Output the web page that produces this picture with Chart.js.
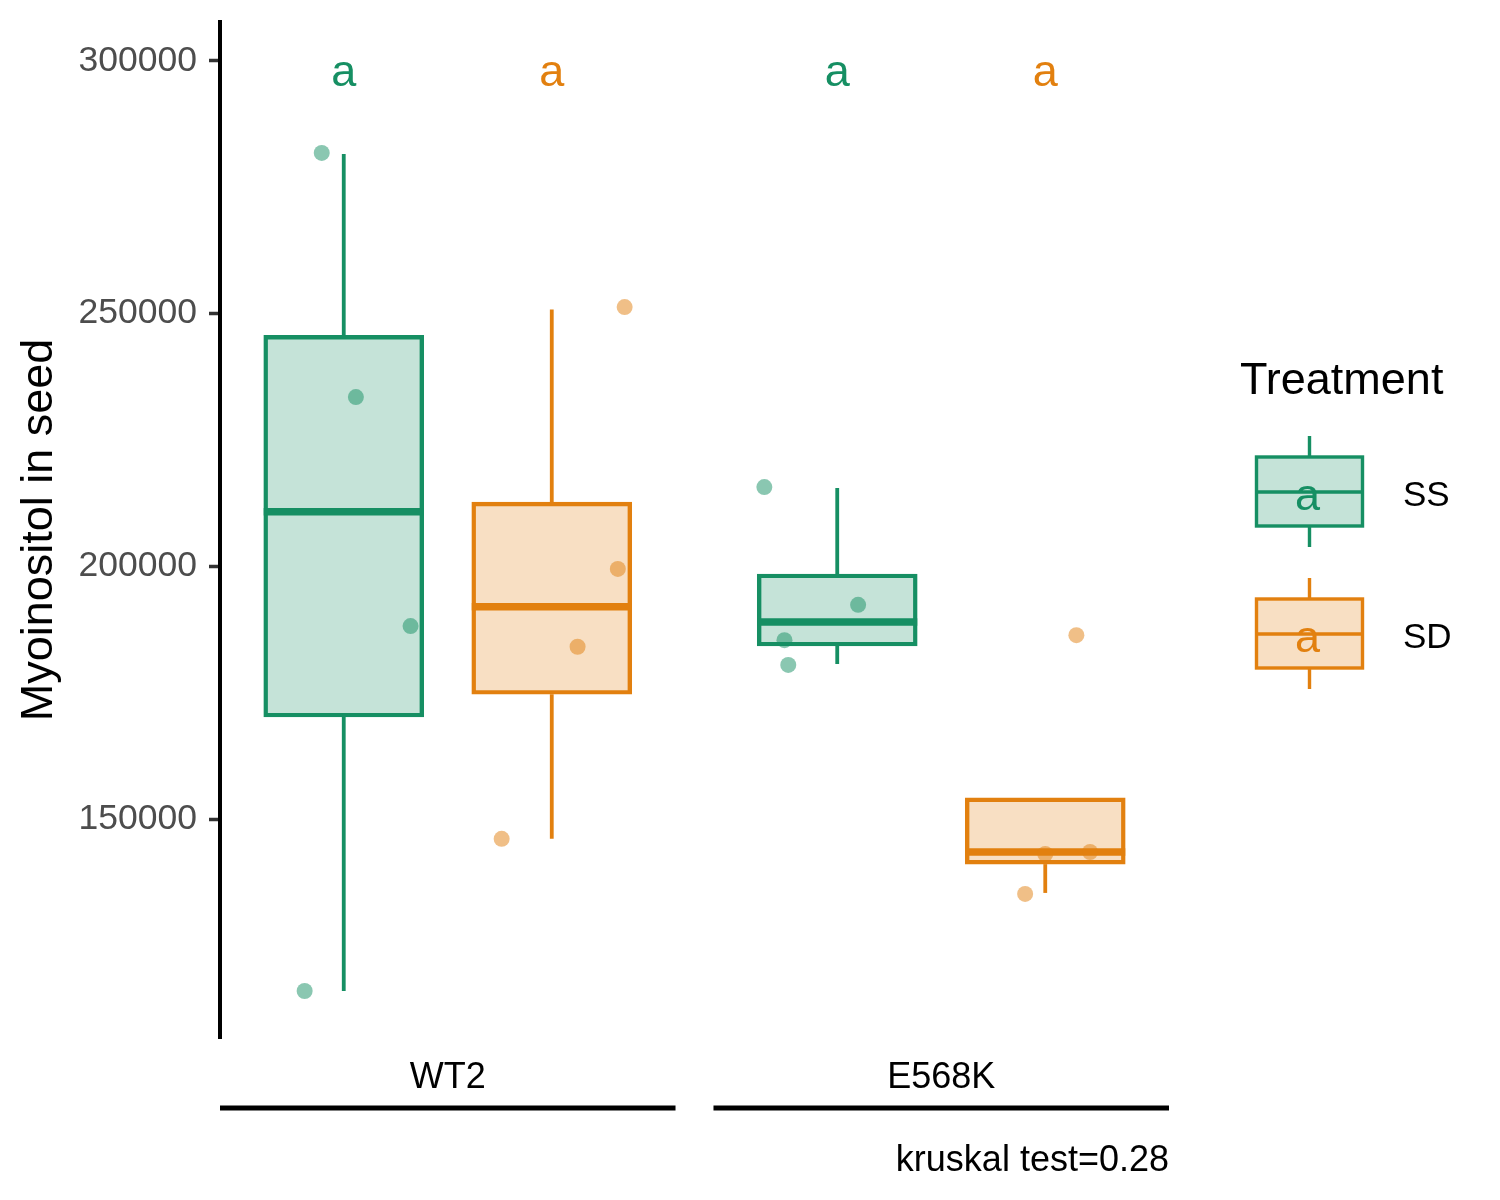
<!DOCTYPE html>
<html>
<head>
<meta charset="utf-8">
<script src="https://cdn.jsdelivr.net/npm/chart.js@4.4.1/dist/chart.umd.min.js"></script>
<style>
  html, body { margin: 0; padding: 0; background: #fff; }
</style>
</head>
<body>
<canvas id="chart" width="1500" height="1200"></canvas>
<script>
// Values
const genotypes = ['WT2', 'E568K'];
const treatments = ['SS', 'SD'];
const yTicks = [150000, 200000, 250000, 300000];

// box stats, one row per genotype: [lower whisker, q1, median, q3, upper whisker]
const ssBoxes = [
  [116000, 170200, 210800, 245700, 281600],
  [180700, 184250, 189000, 198500, 215500]
];
const sdBoxes = [
  [146100, 174700, 192000, 212700, 250800],
  [135400, 141100, 143500, 154200, 154200]
];

// individual measurements
const ssPoints = [
  [281800, 233500, 188200, 116000],
  [215700, 192400, 185400, 180500]
];
const sdPoints = [
  [251300, 199500, 184100, 146100],
  [186400, 143500, 143100, 135200]
];
// horizontal jitter of each measurement (x units)
const ssJitter = [
  [-0.058, 0.032, 0.176, -0.103],
  [-0.192, 0.055, -0.139, -0.129]
];
const sdJitter = [
  [0.192, 0.174, 0.068, -0.132],
  [0.082, 0.118, 0, -0.053]
];

// letter groups above the boxes
const ssLetters = ['a', 'a'];
const sdLetters = ['a', 'a'];
const letterY = 295000;

const kruskalP = 0.28;

// Layout / style
const PANEL_W = 1.2;
const PANEL_STEP = 1.3;
const DODGE = 0.274;
const GREEN = '#168f63';
const ORANGE = '#e2800f';
const LINE_W = 3.8;
const FONT = '"Liberation Sans", Arial, Helvetica, sans-serif';

Chart.defaults.font.family = FONT;

function panelCenter(i) {
  return i * PANEL_STEP + PANEL_W / 2;
}

function hexAlpha(hex, a) {
  const n = parseInt(hex.slice(1), 16);
  return `rgba(${(n >> 16) & 255}, ${(n >> 8) & 255}, ${n & 255}, ${a})`;
}

function boxDataset(label, boxes, letters, color, side) {
  return {
    type: 'bar',
    label: label,
    data: boxes.map((b, i) => ({ x: panelCenter(i) + side * DODGE, y: [b[1], b[3]] })),
    boxStats: boxes,
    letters: letters,
    backgroundColor: hexAlpha(color, 0.25),
    borderColor: color,
    borderWidth: LINE_W,
    borderSkipped: false,
    barThickness: 160,
    grouped: false,
    order: 1
  };
}

function pointDataset(label, points, jitter, color, side) {
  const data = [];
  points.forEach((vals, i) => {
    vals.forEach((v, j) => {
      data.push({ x: panelCenter(i) + side * DODGE + jitter[i][j], y: v });
    });
  });
  return {
    type: 'scatter',
    label: label,
    data: data,
    backgroundColor: hexAlpha(color, 0.5),
    borderWidth: 0,
    pointRadius: 8,
    pointHoverRadius: 8,
    order: 0
  };
}

// whiskers, medians, letters, facet strips, legend, annotation
const boxExtras = {
  id: 'boxExtras',
  afterDatasetDraw(chart, args) {
    const ds = chart.data.datasets[args.index];
    if (!ds.boxStats) return;
    const { ctx, scales: { y } } = chart;
    ctx.save();
    ctx.strokeStyle = ds.borderColor;
    ds.boxStats.forEach((s, i) => {
      const bar = args.meta.data[i];
      const cx = bar.x;
      const half = bar.width / 2;
      ctx.lineWidth = LINE_W;
      ctx.beginPath();
      ctx.moveTo(cx, y.getPixelForValue(s[3]));
      ctx.lineTo(cx, y.getPixelForValue(s[4]));
      ctx.moveTo(cx, y.getPixelForValue(s[1]));
      ctx.lineTo(cx, y.getPixelForValue(s[0]));
      ctx.stroke();
      ctx.lineWidth = 7.5;
      ctx.beginPath();
      const my = y.getPixelForValue(s[2]);
      ctx.moveTo(cx - half, my);
      ctx.lineTo(cx + half, my);
      ctx.stroke();
    });
    ctx.restore();
  },
  afterDraw(chart) {
    const { ctx, chartArea, scales: { x, y } } = chart;
    ctx.save();

    // letters above boxes
    ctx.font = `45px ${FONT}`;
    ctx.textAlign = 'center';
    ctx.textBaseline = 'alphabetic';
    chart.data.datasets.forEach((ds, di) => {
      if (!ds.letters) return;
      const meta = chart.getDatasetMeta(di);
      ds.letters.forEach((l, i) => {
        ctx.fillStyle = ds.borderColor;
        ctx.fillText(l, meta.data[i].x, y.getPixelForValue(letterY));
      });
    });

    // facet strips under the panels
    genotypes.forEach((g, i) => {
      const x0 = x.getPixelForValue(i * PANEL_STEP);
      const x1 = x.getPixelForValue(i * PANEL_STEP + PANEL_W);
      ctx.fillStyle = '#000';
      ctx.font = `36px ${FONT}`;
      ctx.textAlign = 'center';
      ctx.fillText(g, (x0 + x1) / 2, chartArea.bottom + 50);
      ctx.strokeStyle = '#000';
      ctx.lineWidth = 5;
      ctx.beginPath();
      ctx.moveTo(x0, chartArea.bottom + 70);
      ctx.lineTo(x1, chartArea.bottom + 70);
      ctx.stroke();
    });

    // test annotation
    ctx.textAlign = 'right';
    ctx.font = `36px ${FONT}`;
    ctx.fillStyle = '#000';
    ctx.fillText(`kruskal test=${kruskalP}`, chartArea.right, chartArea.bottom + 133);

    // legend
    const lx = 1240;
    ctx.textAlign = 'left';
    ctx.font = `45px ${FONT}`;
    ctx.fillText('Treatment', lx, 394);
    const colors = [GREEN, ORANGE];
    treatments.forEach((t, i) => {
      const top = 457 + i * 142;
      const c = colors[i];
      const kx = 1256.5, kw = 106, kh = 69;
      const cx = kx + kw / 2;
      ctx.fillStyle = hexAlpha(c, 0.25);
      ctx.fillRect(kx, top, kw, kh);
      ctx.strokeStyle = c;
      ctx.lineWidth = 3.4;
      ctx.strokeRect(kx, top, kw, kh);
      ctx.beginPath();
      ctx.moveTo(cx, top - 21);
      ctx.lineTo(cx, top);
      ctx.moveTo(cx, top + kh);
      ctx.lineTo(cx, top + kh + 21);
      ctx.moveTo(kx, top + 35);
      ctx.lineTo(kx + kw, top + 35);
      ctx.stroke();
      ctx.fillStyle = c;
      ctx.font = `45px ${FONT}`;
      ctx.textAlign = 'center';
      ctx.fillText('a', cx - 2, top + 53);
      ctx.fillStyle = '#000';
      ctx.font = `35px ${FONT}`;
      ctx.textAlign = 'left';
      ctx.fillText(t, 1403, top + 49);
    });

    ctx.restore();
  }
};

new Chart(document.getElementById('chart'), {
  type: 'bar',
  data: {
    datasets: [
      boxDataset('SS', ssBoxes, ssLetters, GREEN, -1),
      boxDataset('SD', sdBoxes, sdLetters, ORANGE, 1),
      pointDataset('SS points', ssPoints, ssJitter, GREEN, -1),
      pointDataset('SD points', sdPoints, sdJitter, ORANGE, 1)
    ]
  },
  options: {
    responsive: false,
    animation: false,
    events: [],
    layout: { padding: { left: 0, right: 331, top: 22, bottom: 162 } },
    plugins: {
      legend: { display: false },
      tooltip: { enabled: false }
    },
    scales: {
      x: {
        type: 'linear',
        min: 0,
        max: PANEL_STEP + PANEL_W,
        offset: false,
        display: false
      },
      y: {
        type: 'linear',
        min: 106700,
        max: 307700,
        afterBuildTicks: (scale) => {
          scale.ticks = yTicks.map(v => ({ value: v }));
        },
        afterFit: (scale) => {
          scale.width = 220;
          scale.paddingTop = 0;
          scale.paddingBottom = 0;
        },
        ticks: {
          font: { size: 35.5 },
          color: '#4d4d4d',
          padding: 12,
          callback: (v) => String(v)
        },
        grid: {
          drawOnChartArea: false,
          tickLength: 11,
          tickWidth: 3.5,
          tickColor: '#333333'
        },
        border: { color: '#000', width: 4 },
        title: {
          display: true,
          text: 'Myoinositol in seed',
          color: '#000',
          font: { size: 45 },
          padding: { top: 13, bottom: 0 }
        }
      }
    }
  },
  plugins: [boxExtras]
});
</script>
</body>
</html>
